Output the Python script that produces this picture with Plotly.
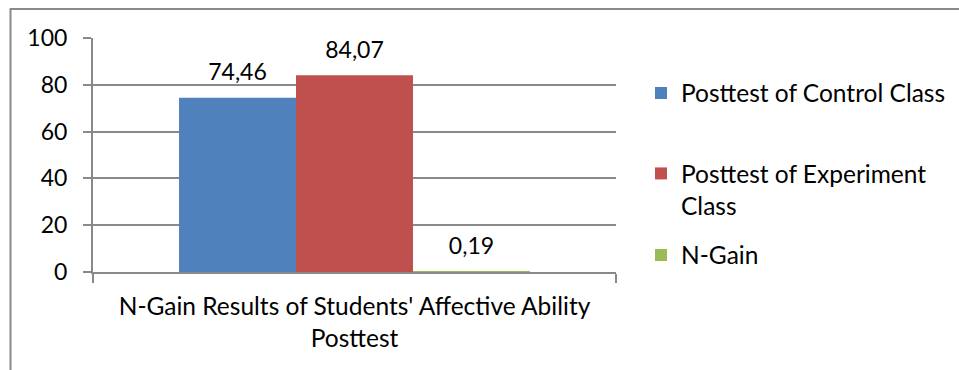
import plotly.graph_objects as go

category = ["N-Gain Results of Students' Affective Ability<br>Posttest"]
series_names = ["Posttest of Control Class", "Posttest of Experiment<br>Class", "N-Gain"]
series_values = [[74.46], [84.07], [0.19]]
series_colors = ["#4F81BD", "#C0504D", "#9BBB59"]
y_ticks = [0, 20, 40, 60, 80, 100]

FONT = "Lato"
FS_TEXT = 24.5
FS_NUM = 23
GRAY = "#898989"
BARGAP = 0.329

W, H = 959, 370
L, R, T, B = 93, 343, 38, 98
PW, PH = W - L - R, H - T - B


def px(x):
    return (x - L) / PW


def py(y):
    return (H - B - y) / PH


fig = go.Figure()
legend_ids = ["legend", "legend2", "legend3"]
for i, (name, vals, col, lg) in enumerate(zip(series_names, series_values, series_colors, legend_ids)):
    fig.add_trace(go.Bar(
        x=category, y=vals, name=name, marker_color=col, marker_line_width=0,
        offsetgroup=str(i), legend=lg, showlegend=True, hoverinfo="skip",
    ))
for i, vals in enumerate(series_values):
    fig.add_trace(go.Scatter(
        x=category, y=vals, mode="markers+text", offsetgroup=str(i),
        text=[f"{v:.2f}".replace(".", ",") for v in vals],
        textposition="top center", cliponaxis=False,
        textfont=dict(family=FONT, size=FS_NUM, color="#000000"),
        marker=dict(size=17, opacity=0, color="white"),
        showlegend=False, hoverinfo="skip",
    ))

legend_common = dict(font=dict(family=FONT, size=FS_TEXT, color="#000000"),
                     xanchor="left", yanchor="middle", bgcolor="rgba(0,0,0,0)",
                     valign="top", itemclick=False, itemdoubleclick=False, visible=True)

fig.update_layout(
    width=W, height=H,
    margin=dict(l=L, r=R, t=T, b=B, autoexpand=False),
    paper_bgcolor="white", plot_bgcolor="white",
    showlegend=True,
    barmode="group", bargap=BARGAP, bargroupgap=0,
    scattermode="group", scattergap=BARGAP,
    font=dict(family=FONT, size=FS_TEXT, color="#000000"),
    legend=dict(x=px(641), y=py(93), **legend_common),
    legend2=dict(x=px(641), y=py(189.5), **legend_common),
    legend3=dict(x=px(641), y=py(255), **legend_common),
    xaxis=dict(
        showline=True, linecolor=GRAY, linewidth=2,
        ticks="outside", tickson="boundaries", ticklen=9, tickcolor=GRAY, tickwidth=2,
        tickfont=dict(family=FONT, size=FS_TEXT, color="#000000"),
        ticklabelstandoff=12,
        showgrid=False, zeroline=False, fixedrange=True,
    ),
    yaxis=dict(
        range=[0, 100], tickvals=y_ticks, ticktext=[str(v) for v in y_ticks],
        showline=True, linecolor=GRAY, linewidth=2,
        showgrid=True, gridcolor=GRAY, gridwidth=2,
        ticks="outside", ticklen=8, tickcolor=GRAY, tickwidth=2,
        tickfont=dict(family=FONT, size=FS_NUM, color="#000000"),
        ticklabelstandoff=11,
        zeroline=False, fixedrange=True,
    ),
    shapes=[dict(type="rect", xref="paper", yref="paper",
                 x0=px(10.5), x1=px(975), y0=py(9), y1=py(390),
                 line=dict(color=GRAY, width=2), fillcolor="rgba(0,0,0,0)", layer="below")],
)

fig.write_html("out.html")
